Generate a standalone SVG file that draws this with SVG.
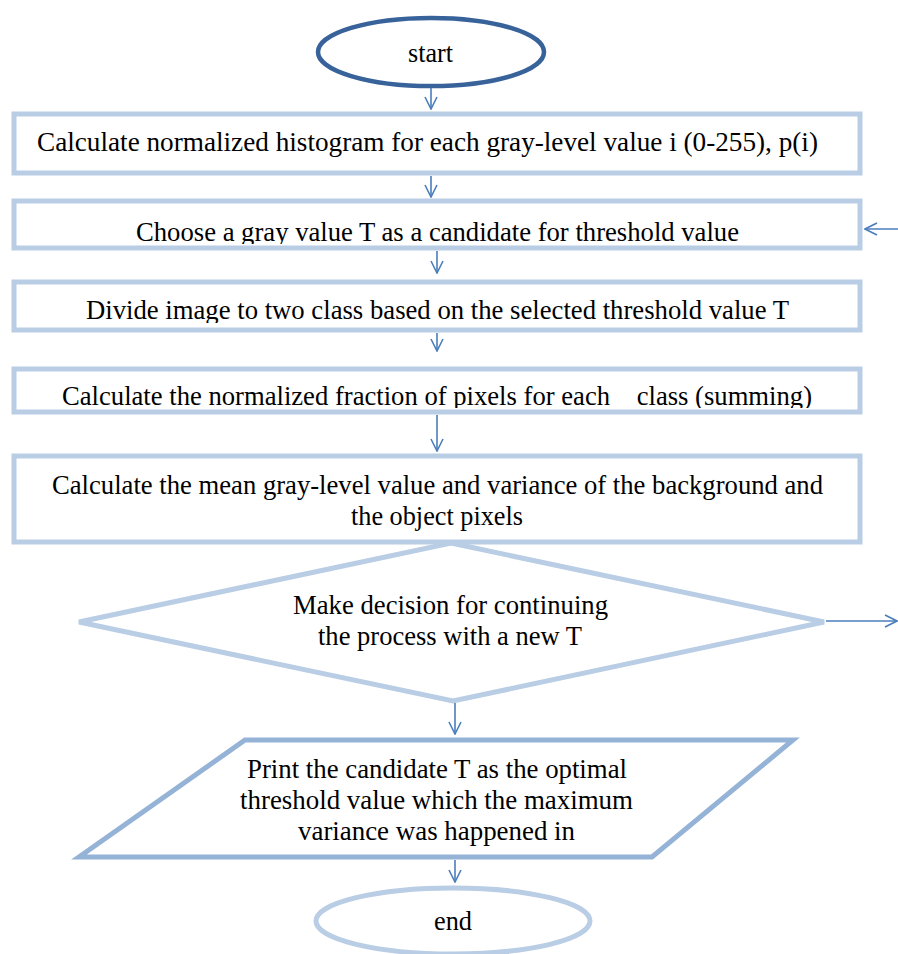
<svg xmlns="http://www.w3.org/2000/svg" width="898" height="954" viewBox="0 0 898 954">
<style>
text{font-family:"Liberation Serif","Times New Roman",serif;font-size:28px;fill:#000}
.box{fill:#fff;stroke:#B9CDE5;stroke-width:5}
.conn{stroke:#4A7EBB;stroke-width:1.6;fill:none}
</style>
<defs>
<marker id="ah" viewBox="0 0 14 14" refX="13" refY="7" markerWidth="14" markerHeight="14" markerUnits="userSpaceOnUse" orient="auto">
<path d="M1,1 L13,7 L1,13" fill="none" stroke="#4A7EBB" stroke-width="1.6"/>
</marker>
<clipPath id="c2"><rect x="15" y="202" width="843" height="42"/></clipPath>
<clipPath id="c3"><rect x="15" y="283" width="843" height="40"/></clipPath>
<clipPath id="c4"><rect x="15" y="370" width="843" height="38"/></clipPath>
</defs>
<g id="start">
<ellipse cx="431" cy="52" rx="113" ry="34" fill="#fff" stroke="#38629A" stroke-width="4.5"/>
<text x="408" y="62" textLength="45" lengthAdjust="spacingAndGlyphs">start</text>
</g>
<g id="box1">
<rect class="box" x="14" y="114" width="846" height="59"/>
<text x="37" y="151" textLength="781" lengthAdjust="spacingAndGlyphs">Calculate normalized histogram for each gray-level value i (0-255), p(i)</text>
</g>
<g id="box2">
<rect class="box" x="14" y="201" width="846" height="47"/>
<text x="136" y="241" textLength="603" lengthAdjust="spacingAndGlyphs" clip-path="url(#c2)">Choose a gray value T as a candidate for threshold value</text>
</g>
<g id="box3">
<rect class="box" x="14" y="282" width="846" height="48"/>
<text x="86" y="319" textLength="703" lengthAdjust="spacingAndGlyphs" clip-path="url(#c3)">Divide image to two class based on the selected threshold value T</text>
</g>
<g id="box4">
<rect class="box" x="14" y="369" width="846" height="43"/>
<text x="62" y="405" textLength="750" lengthAdjust="spacingAndGlyphs" clip-path="url(#c4)" xml:space="preserve">Calculate the normalized fraction of pixels for each    class (summing)</text>
</g>
<g id="box5">
<rect class="box" x="14" y="456" width="846" height="86"/>
<text x="52" y="494" textLength="771" lengthAdjust="spacingAndGlyphs">Calculate the mean gray-level value and variance of the background and</text>
<text x="351" y="525" textLength="172" lengthAdjust="spacingAndGlyphs">the object pixels</text>
</g>
<g id="decision">
<polygon points="451,543 824,622 453,701 79,622" fill="#fff" stroke="#B9CDE5" stroke-width="5"/>
<text x="293" y="614" textLength="315" lengthAdjust="spacingAndGlyphs">Make decision for continuing</text>
<text x="318" y="645" textLength="264" lengthAdjust="spacingAndGlyphs">the process with a new T</text>
</g>
<g id="output">
<polygon points="245,740 793,740 652,857 79,857" fill="#fff" stroke="#95B3D7" stroke-width="5"/>
<text x="247" y="778" textLength="380" lengthAdjust="spacingAndGlyphs">Print the candidate T as the optimal</text>
<text x="240" y="809" textLength="393" lengthAdjust="spacingAndGlyphs">threshold value which the maximum</text>
<text x="298" y="840" textLength="277" lengthAdjust="spacingAndGlyphs">variance was happened in</text>
</g>
<g id="end">
<ellipse cx="453" cy="921" rx="137" ry="33" fill="#fff" stroke="#B9CDE5" stroke-width="5"/>
<text x="434" y="930" textLength="38" lengthAdjust="spacingAndGlyphs">end</text>
</g>
<g id="connectors">
<line class="conn" x1="431" y1="88" x2="431" y2="109" marker-end="url(#ah)"/>
<line class="conn" x1="431" y1="176" x2="431" y2="197" marker-end="url(#ah)"/>
<line class="conn" x1="437" y1="251" x2="437" y2="273" marker-end="url(#ah)"/>
<line class="conn" x1="437" y1="333" x2="437" y2="351" marker-end="url(#ah)"/>
<line class="conn" x1="437" y1="415" x2="437" y2="451" marker-end="url(#ah)"/>
<line class="conn" x1="455" y1="703" x2="455" y2="734" marker-end="url(#ah)"/>
<line class="conn" x1="455" y1="860" x2="455" y2="882" marker-end="url(#ah)"/>
<line class="conn" x1="826" y1="621" x2="897" y2="621" marker-end="url(#ah)"/>
<line class="conn" x1="898" y1="229" x2="865" y2="229" marker-end="url(#ah)"/>
</g>
</svg>
